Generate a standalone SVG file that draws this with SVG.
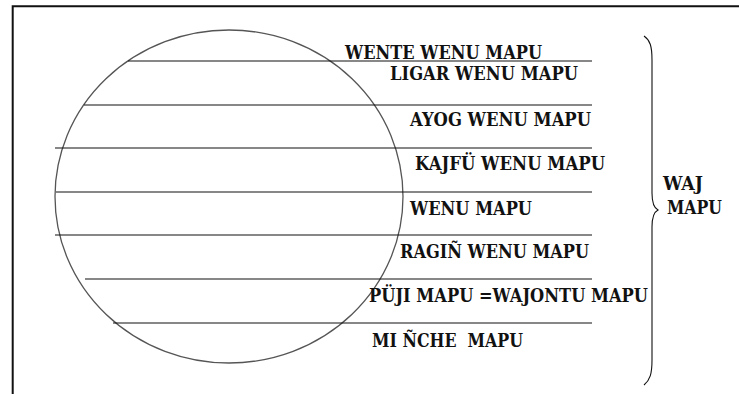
<svg xmlns="http://www.w3.org/2000/svg" width="739" height="394" viewBox="0 0 739 394">
<style>
.lbl{font-family:'DejaVu Serif',serif;font-weight:bold;font-size:18px;fill:#111}
.ln{stroke:#111;stroke-width:1.1;fill:none}
</style>
<rect x="0" y="0" width="739" height="394" fill="#fff"/>
<path d="M12.7,394 V6.3 H739" fill="none" stroke="#111" stroke-width="2"/>
<g id="globe">
<ellipse cx="229" cy="196.5" rx="174" ry="166.5" fill="none" stroke="#555" stroke-width="1.3"/>
</g>
<g id="connectors">
<line class="ln" x1="128" y1="61" x2="592" y2="61"/>
<line class="ln" x1="84" y1="105" x2="592" y2="105"/>
<line class="ln" x1="55" y1="148" x2="592" y2="148"/>
<line class="ln" x1="56" y1="192" x2="592" y2="192"/>
<line class="ln" x1="55" y1="235" x2="592" y2="235"/>
<line class="ln" x1="85" y1="279" x2="592" y2="279"/>
<line class="ln" x1="113" y1="323" x2="592" y2="323"/>
<path class="ln" d="M644,36 C650,40 652,46 652,60 L652,193 C652,203 654,208 658,210 C654,212 652,217 652,227 L652,360 C652,374 650,380 644,385"/>
</g>
<g id="wente"><text class="lbl" x="345" y="59" textLength="197" lengthAdjust="spacingAndGlyphs">WENTE WENU MAPU</text></g>
<g id="ligar"><text class="lbl" x="390" y="80" textLength="188" lengthAdjust="spacingAndGlyphs">LIGAR WENU MAPU</text></g>
<g id="ayog"><text class="lbl" x="410" y="126" textLength="181" lengthAdjust="spacingAndGlyphs">AYOG WENU MAPU</text></g>
<g id="kajfu"><text class="lbl" x="415" y="170" textLength="190" lengthAdjust="spacingAndGlyphs">KAJFÜ WENU MAPU</text></g>
<g id="wenu"><text class="lbl" x="410" y="215" textLength="122" lengthAdjust="spacingAndGlyphs">WENU MAPU</text></g>
<g id="ragin"><text class="lbl" x="400" y="258" textLength="189" lengthAdjust="spacingAndGlyphs">RAGIÑ WENU MAPU</text></g>
<g id="puji"><text class="lbl" x="369" y="302" textLength="279" lengthAdjust="spacingAndGlyphs">PÜJI MAPU =WAJONTU MAPU</text></g>
<g id="minche"><text class="lbl" x="372" y="347" textLength="151" lengthAdjust="spacingAndGlyphs" xml:space="preserve">MI ÑCHE  MAPU</text></g>
<g id="waj"><text class="lbl" x="663" y="190" textLength="40" lengthAdjust="spacingAndGlyphs">WAJ</text><text class="lbl" x="667" y="214" textLength="55" lengthAdjust="spacingAndGlyphs">MAPU</text></g>
</svg>
